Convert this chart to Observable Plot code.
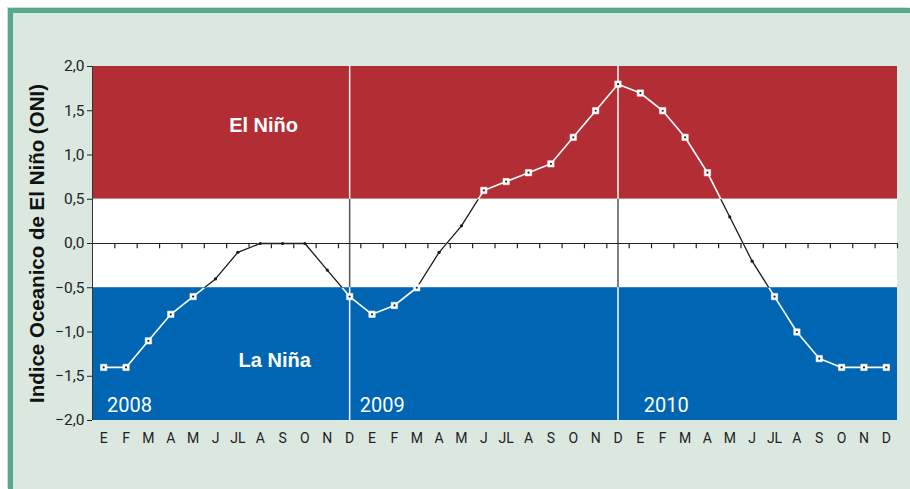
<!DOCTYPE html>
<html>
<head>
<meta charset="utf-8">
<script src="https://cdn.jsdelivr.net/npm/d3@7"></script>
<script src="https://cdn.jsdelivr.net/npm/@observablehq/plot@0.6"></script>
<style>
  html, body { margin: 0; padding: 0; background: #ffffff; }
  #wrap { position: relative; width: 910px; height: 489px; overflow: hidden; }
  #panel { position: absolute; left: 8px; top: 8px; right: 0; bottom: 0;
           background: #dae8e0; border-left: 5px solid #56a98b; border-top: 5px solid #56a98b;
           box-shadow: -1px -1px 0 #cfe1d8; }
  #chart { position: absolute; left: 0; top: 0; }
</style>
</head>
<body>
<div id="wrap"><div id="panel"></div><div id="chart"></div></div>
<script>
// ---- data ----
const monthLabels = ["E","F","M","A","M","J","JL","A","S","O","N","D"];
const years = ["2008","2009","2010"];
const oni2008 = [-1.4,-1.4,-1.1,-0.8,-0.6,-0.4,-0.1,0.0,0.0,0.0,-0.3,-0.6];
const oni2009 = [-0.8,-0.7,-0.5,-0.1,0.2,0.6,0.7,0.8,0.9,1.2,1.5,1.8];
const oni2010 = [1.7,1.5,1.2,0.8,0.3,-0.2,-0.6,-1.0,-1.3,-1.4,-1.4,-1.4];
const yTicks = [-2,-1.5,-1,-0.5,0,0.5,1,1.5,2];
const ninoThreshold = 0.5;

const values = [...oni2008, ...oni2009, ...oni2010];
const data = values.map((v, i) => ({i, v, month: monthLabels[i % 12], year: years[Math.floor(i / 12)]}));
const idx = d3.range(values.length);
const decIdx = idx.filter(i => i % 12 === 11 && i < values.length - 1);

const W = 910, H = 489;
const mL = 92, mR = 13, mT = 66, mB = 69;
const fmt = d => d3.format(".1f")(d).replace(".", ",");
const boldFont = "'Liberation Sans', Arial, sans-serif";
const narrowFont = "'Liberation Sans Narrow', 'Roboto', sans-serif";
const darkLine = "#1a1a1b";

const plot = Plot.plot({
  width: W, height: H,
  marginLeft: mL, marginRight: mR, marginTop: mT, marginBottom: mB,
  style: {background: "transparent", fontFamily: "Roboto, 'Liberation Sans', sans-serif"},
  x: {type: "linear", domain: [-0.5, values.length - 0.5]},
  y: {domain: [-2, 2]},
  marks: [
    // bands
    Plot.rect([{y1: ninoThreshold, y2: 2}], {y1: "y1", y2: "y2", fill: "#b32d34"}),
    Plot.rect([{y1: -ninoThreshold, y2: ninoThreshold}], {y1: "y1", y2: "y2", fill: "#ffffff"}),
    Plot.rect([{y1: -2, y2: -ninoThreshold}], {y1: "y1", y2: "y2", fill: "#0066b3"}),
    // year separators
    Plot.ruleX(decIdx, {x: d => d, stroke: "#ffffff", strokeWidth: 1.5}),
    Plot.ruleX(decIdx, {x: d => d, y1: -ninoThreshold, y2: ninoThreshold, stroke: "#555555", strokeWidth: 1.5}),
    // zero line with ticks at month boundaries
    Plot.ruleY([0], {stroke: "#222222", strokeWidth: 1.2}),
    Plot.ruleX(idx, {x: d => d + 0.5, y1: 0, y2: -0.06, stroke: "#222222", strokeWidth: 1.2}),
    // y axis line
    Plot.ruleX([-0.5], {stroke: "#333333", strokeWidth: 1}),
    // data line (white everywhere, dark copy confined to neutral band below)
    Plot.line(data, {x: "i", y: "v", stroke: "#ffffff", strokeWidth: 1.6}),
    Plot.line(data, {x: "i", y: "v", stroke: darkLine, strokeWidth: 1.3}),
    // markers
    Plot.dot(data.filter(d => Math.abs(d.v) >= ninoThreshold), {x: "i", y: "v", symbol: "square", r: 3.6, fill: "#ffffff", stroke: "#ffffff", strokeWidth: 0.5}),
    Plot.dot(data.filter(d => Math.abs(d.v) >= ninoThreshold), {x: "i", y: "v", r: 1.1, fill: "#222222"}),
    Plot.dot(data.filter(d => Math.abs(d.v) < ninoThreshold), {x: "i", y: "v", r: 1.6, fill: "#1a1a1a"}),
    // labels
    Plot.text(["El Niño"], {x: 7.15, y: 1.33, text: d => d, fill: "#ffffff", fontSize: 20, fontWeight: "bold", fontFamily: boldFont}),
    Plot.text(["La Niña"], {x: 7.65, y: -1.32, text: d => d, fill: "#ffffff", fontSize: 20, fontWeight: "bold", fontFamily: boldFont}),
    Plot.text([years[0]], {x: 0.15, y: -1.83, text: d => d, fill: "#ffffff", fontSize: 20, textAnchor: "start"}),
    Plot.text([years[1]], {x: 11.45, y: -1.83, text: d => d, fill: "#ffffff", fontSize: 20, textAnchor: "start"}),
    Plot.text([years[2]], {x: 24.15, y: -1.83, text: d => d, fill: "#ffffff", fontSize: 20, textAnchor: "start"}),
    // axes
    Plot.axisY({ticks: yTicks, tickFormat: fmt, tickSize: 5, tickPadding: 3, fontSize: 15.5, label: null, color: "#222222", fontFamily: narrowFont}),
    Plot.axisX({ticks: idx, tickFormat: i => monthLabels[i % 12], tickSize: 0, tickPadding: 13, fontSize: 14, label: null, color: "#222222"}),
    // y title
    Plot.text(["Indice Oceanico de El Niño (ONI)"], {frameAnchor: "left", textAnchor: "middle", text: d => d, rotate: -90, dx: -55, fontSize: 20.5, fontWeight: "bold", fill: "#111111", fontFamily: boldFont})
  ]
});

// confine the dark copy of the line to the neutral band
const ys = plot.scale("y");
const yTop = ys.apply(ninoThreshold), yBot = ys.apply(-ninoThreshold);
const svg = d3.select(plot);
svg.append("defs").append("clipPath").attr("id", "neutral-clip")
  .append("rect")
  .attr("x", 0).attr("width", W)
  .attr("y", yTop).attr("height", yBot - yTop);
svg.selectAll('g[aria-label="line"]')
  .filter(function() { return this.getAttribute("stroke") === darkLine; })
  .attr("clip-path", "url(#neutral-clip)");

document.getElementById("chart").appendChild(plot);
</script>
</body>
</html>
